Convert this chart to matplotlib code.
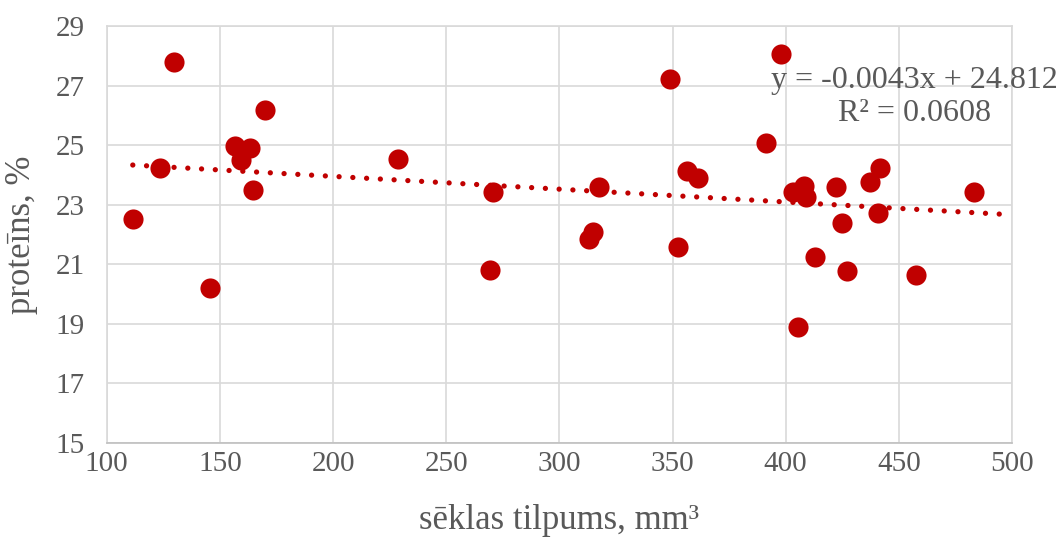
import matplotlib
matplotlib.use('Agg')
import matplotlib.pyplot as plt
import numpy as np

# seed volume (mm3) vs protein (%)
volume = [111.5, 129.6, 123.6, 145.7, 156.5, 163.1, 159.4, 164.5, 169.8, 228.7,
          270.8, 269.3, 313.2, 315.0, 317.4, 348.7, 352.6, 356.6, 361.4, 398.1,
          391.2, 403.1, 408.3, 408.8, 405.5, 413.0, 422.1, 424.9, 427.1, 437.4,
          441.7, 440.9, 457.6, 483.4]
protein = [22.51, 27.78, 24.22, 20.20, 24.98, 24.92, 24.50, 23.49, 26.17, 24.53,
           23.42, 20.81, 21.85, 22.09, 23.61, 27.21, 21.58, 24.13, 23.89, 28.06,
           25.08, 23.42, 23.64, 23.27, 18.90, 21.25, 23.61, 22.40, 20.76, 23.77,
           24.22, 22.71, 20.65, 23.42]
slope = -0.0043
intercept = 24.812
r2 = 0.0608
xticks = [100, 150, 200, 250, 300, 350, 400, 450, 500]
yticks = [15, 17, 19, 21, 23, 25, 27, 29]

plt.rcParams['font.family'] = ['Liberation Serif', 'DejaVu Serif']
red = '#C00000'
grey = '#595959'

fig = plt.figure(figsize=(10.6, 5.42), dpi=100)
ax = fig.add_axes([0.1007, 0.1827, 0.854, 0.7693])

ax.scatter(volume, protein, s=210, color=red, zorder=3, linewidths=0)

xl = np.array([min(volume), 500])
ax.plot(xl, slope * xl + intercept, color=red, lw=3.8,
        linestyle=(0, (0.01, 2.6)), dash_capstyle='round', zorder=2)

ax.set_xlim(100, 500)
ax.set_ylim(15, 29)
ax.set_xticks(xticks)
ax.set_yticks(yticks)
ax.grid(True, color='#D9D9D9', lw=1.2, zorder=0)
ax.set_axisbelow(True)
for s in ax.spines.values():
    s.set_color('#D9D9D9')
    s.set_linewidth(1.2)
ax.spines['bottom'].set_color('#BFBFBF')
ax.tick_params(length=0, labelsize=21, colors=grey)
ax.tick_params(axis='y', pad=16)
ax.tick_params(axis='x', pad=6)

ax.set_xlabel('sēklas tilpums, mm³', fontsize=25, color=grey, labelpad=19)
ax.set_ylabel('proteīns, %', fontsize=25, color=grey, va='center')
ax.yaxis.set_label_coords(-0.094, 0.5)

fig.text(914 / 1060, 1 - 97 / 542,
         'y = %.4fx + %.3f\nR² = %.4f' % (slope, intercept, r2),
         ha='center', va='center', multialignment='center',
         fontsize=23, color=grey, linespacing=1.15)

fig.savefig('out.png', dpi=100)
